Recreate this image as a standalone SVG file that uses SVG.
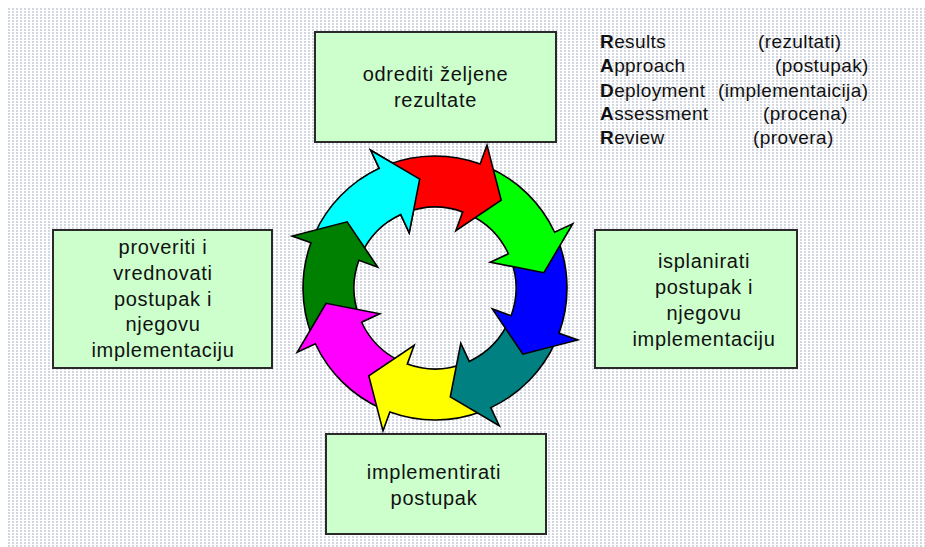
<svg xmlns="http://www.w3.org/2000/svg" xmlns:xlink="http://www.w3.org/1999/xlink" width="925" height="547" viewBox="0 0 925 547">
  <style>
    .box { fill: #CCFFCC; stroke: #2a2a2a; stroke-width: 2; }
    .lbl { font-family: "Liberation Sans", Arial, sans-serif; font-size: 20px; letter-spacing: 0.7px; fill: #111; text-anchor: middle; }
    .leg { font-family: "Liberation Sans", Arial, sans-serif; font-size: 19px; letter-spacing: 0.4px; fill: #111; }
    .arr { stroke: #000; stroke-width: 1.6; stroke-linejoin: miter; }
  </style>
  <defs>
    <pattern id="dots" x="8" y="8" width="4" height="3" patternUnits="userSpaceOnUse">
      <rect width="4" height="3" fill="#ffffff"/>
      <rect width="2" height="2" fill="#d3d7e1"/>
    </pattern>
    <path id="arrow" d="M-47.30,-123.23 A132,132 0 0 1 45.15,-124.04 L51.99,-142.83 L66.20,-87.85 L20.86,-57.32 L27.70,-76.12 A81,81 0 0 0 -29.03,-75.62 Z"/>
    <clipPath id="headclip">
      <polygon points="0,0 34.73,-196.96 100,-173.21 153.21,-128.56"/>
    </clipPath>
  </defs>

  <rect width="925" height="547" fill="#ffffff"/>
  <rect x="8" y="8" width="917" height="539" fill="url(#dots)"/>

  <g id="connectors">
    <g transform="translate(435,288)">
      <use xlink:href="#arrow" class="arr" fill="#00FFFF" transform="rotate(315)"/>
      <use xlink:href="#arrow" class="arr" fill="#008000" transform="rotate(270)"/>
      <use xlink:href="#arrow" class="arr" fill="#FF00FF" transform="rotate(225)"/>
      <use xlink:href="#arrow" class="arr" fill="#FFFF00" transform="rotate(180)"/>
      <use xlink:href="#arrow" class="arr" fill="#008080" transform="rotate(135)"/>
      <use xlink:href="#arrow" class="arr" fill="#0000FF" transform="rotate(90)"/>
      <use xlink:href="#arrow" class="arr" fill="#00FF00" transform="rotate(45)"/>
      <use xlink:href="#arrow" class="arr" fill="#FF0000"/>
      <g transform="rotate(315)">
        <use xlink:href="#arrow" class="arr" fill="#00FFFF" clip-path="url(#headclip)"/>
      </g>
    </g>
  </g>

  <g id="node-top">
    <rect class="box" x="315" y="32" width="241" height="110"/>
    <text class="lbl" x="435.5" y="81">odrediti željene</text>
    <text class="lbl" x="435.5" y="107">rezultate</text>
  </g>

  <g id="node-right">
    <rect class="box" x="595" y="230" width="202" height="138"/>
    <text class="lbl" x="704" y="268">isplanirati</text>
    <text class="lbl" x="704" y="294">postupak i</text>
    <text class="lbl" x="704" y="320">njegovu</text>
    <text class="lbl" x="704" y="346">implementaciju</text>
  </g>

  <g id="node-bottom">
    <rect class="box" x="326" y="434" width="220" height="100"/>
    <text class="lbl" x="434" y="479">implementirati</text>
    <text class="lbl" x="434" y="505">postupak</text>
  </g>

  <g id="node-left">
    <rect class="box" x="53" y="230" width="219" height="138"/>
    <text class="lbl" x="163" y="254">proveriti i</text>
    <text class="lbl" x="163" y="280">vrednovati</text>
    <text class="lbl" x="163" y="305.5">postupak i</text>
    <text class="lbl" x="163" y="331">njegovu</text>
    <text class="lbl" x="163" y="357">implementaciju</text>
  </g>

  <g id="legend">
    <text class="leg" x="600" y="48"><tspan font-weight="bold">R</tspan>esults</text>
    <text class="leg" x="600" y="72"><tspan font-weight="bold">A</tspan>pproach</text>
    <text class="leg" x="600" y="96.5"><tspan font-weight="bold">D</tspan>eployment</text>
    <text class="leg" x="600" y="120"><tspan font-weight="bold">A</tspan>ssessment</text>
    <text class="leg" x="600" y="144"><tspan font-weight="bold">R</tspan>eview</text>
    <text class="leg" x="758" y="48">(rezultati)</text>
    <text class="leg" x="775" y="72">(postupak)</text>
    <text class="leg" x="718" y="96.5">(implementaicija)</text>
    <text class="leg" x="763" y="120">(procena)</text>
    <text class="leg" x="753" y="144">(provera)</text>
  </g>
</svg>
